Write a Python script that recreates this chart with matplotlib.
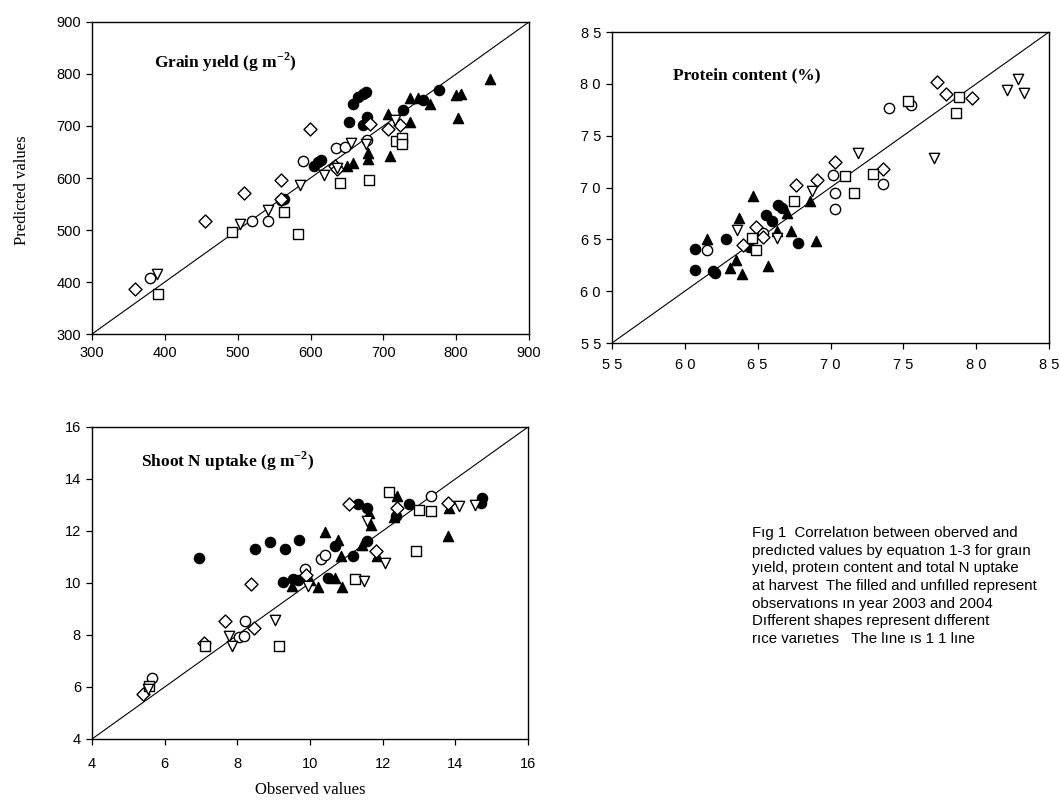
import matplotlib
matplotlib.use("Agg")
import matplotlib.pyplot as plt

plt.rcParams["mathtext.fontset"] = "custom"
plt.rcParams["mathtext.rm"] = "Liberation Serif"
plt.rcParams["mathtext.bf"] = "Liberation Serif:bold"

# ---------------- data ----------------
# Panel 1: grain yield (g m-2)
gy_filled_circle_x = [658, 665, 672, 676, 653, 677, 672, 727, 755, 777, 605, 610, 614, 563]
gy_filled_circle_y = [743, 755, 762, 765, 708, 717, 701, 730, 750, 770, 624, 631, 634, 560]
gy_filled_tri_x = [846, 800, 806, 803, 736, 748, 764, 707, 736, 679, 709, 650, 659, 679]
gy_filled_tri_y = [790, 759, 761, 716, 754, 754, 743, 724, 708, 637, 642, 624, 628, 648]
gy_open_circle_x = [380, 519, 541, 560, 590, 635, 647, 677]
gy_open_circle_y = [408, 517, 518, 557, 633, 658, 660, 674]
gy_open_diamond_x = [359, 455, 509, 559, 599, 634, 636, 682, 707, 723, 560]
gy_open_diamond_y = [387, 518, 571, 597, 694, 624, 618, 703, 695, 701, 559]
gy_open_square_x = [391, 492, 564, 583, 640, 681, 718, 725, 726]
gy_open_square_y = [377, 497, 534, 493, 591, 597, 671, 677, 665]
gy_open_vtri_x = [389, 503, 542, 586, 618, 656, 676, 716, 636]
gy_open_vtri_y = [416, 512, 539, 586, 606, 667, 666, 711, 619]

# Panel 2: protein content (%)
pc_filled_circle_x = [6.07, 6.07, 6.19, 6.21, 6.28, 6.56, 6.60, 6.64, 6.67, 6.78, 6.44]
pc_filled_circle_y = [6.41, 6.20, 6.19, 6.18, 6.50, 6.73, 6.68, 6.83, 6.80, 6.46, 6.43]
pc_filled_tri_x = [6.15, 6.37, 6.47, 6.35, 6.39, 6.31, 6.57, 6.63, 6.70, 6.73, 6.86, 6.90]
pc_filled_tri_y = [6.50, 6.71, 6.92, 6.30, 6.17, 6.22, 6.24, 6.58, 6.75, 6.58, 6.87, 6.48]
pc_open_circle_x = [6.15, 7.02, 7.03, 7.03, 7.36, 7.40, 7.55, 6.54]
pc_open_circle_y = [6.40, 7.12, 6.95, 6.79, 7.03, 7.77, 7.80, 6.56]
pc_open_diamond_x = [6.40, 6.49, 6.54, 6.76, 6.91, 7.03, 7.36, 7.73, 7.79, 7.97]
pc_open_diamond_y = [6.45, 6.62, 6.52, 7.02, 7.07, 7.25, 7.18, 8.02, 7.90, 7.86]
pc_open_square_x = [6.46, 6.49, 6.75, 7.10, 7.16, 7.29, 7.53, 7.86, 7.88]
pc_open_square_y = [6.51, 6.40, 6.87, 7.11, 6.95, 7.13, 7.83, 7.72, 7.87]
pc_open_vtri_x = [6.36, 6.63, 6.87, 7.19, 7.71, 8.21, 8.29, 8.33]
pc_open_vtri_y = [6.59, 6.51, 6.97, 7.33, 7.28, 7.94, 8.05, 7.91]

# Panel 3: shoot N uptake (g m-2)
nu_filled_circle_x = [6.95, 8.49, 8.90, 9.31, 9.71, 9.25, 9.54, 9.68, 10.49, 10.69, 11.17,
                      11.56, 11.33, 11.56, 12.73, 14.74, 14.72, 12.38]
nu_filled_circle_y = [10.96, 11.31, 11.56, 11.31, 11.64, 10.04, 10.15, 10.10, 10.19, 11.41, 11.03,
                      11.60, 13.05, 12.88, 13.04, 13.27, 13.08, 12.59]
nu_filled_tri_x = [10.42, 10.76, 10.85, 9.50, 10.23, 10.87, 10.00, 10.69, 11.44, 11.68, 11.63,
                   12.40, 12.31, 13.83, 13.79, 11.85]
nu_filled_tri_y = [11.95, 11.64, 11.03, 9.87, 9.85, 9.85, 10.13, 10.19, 11.47, 12.24, 12.69,
                   13.36, 12.53, 12.88, 11.80, 11.03]
nu_open_circle_x = [5.65, 8.21, 8.05, 8.17, 9.86, 10.30, 10.41, 13.32]
nu_open_circle_y = [6.35, 8.55, 7.92, 7.95, 10.55, 10.94, 11.09, 13.36]
nu_open_diamond_x = [5.40, 7.07, 7.65, 8.47, 8.37, 9.89, 11.08, 12.40, 11.81, 13.79]
nu_open_diamond_y = [5.74, 7.69, 8.53, 8.27, 9.96, 10.32, 13.04, 12.88, 11.23, 13.08]
nu_open_square_x = [5.56, 7.11, 9.16, 11.24, 12.18, 12.93, 12.99, 13.33]
nu_open_square_y = [6.03, 7.56, 7.59, 10.15, 13.49, 11.24, 12.82, 12.76]
nu_open_vtri_x = [5.53, 7.76, 7.85, 9.04, 9.94, 11.49, 11.57, 12.06, 14.10, 14.55]
nu_open_vtri_y = [5.92, 7.95, 7.59, 8.59, 9.90, 10.06, 12.37, 10.77, 12.95, 13.01]

gy_ticks = [300, 400, 500, 600, 700, 800, 900]
pc_ticks = [5.5, 6.0, 6.5, 7.0, 7.5, 8.0, 8.5]
pc_ticklabels = ["5 5", "6 0", "6 5", "7 0", "7 5", "8 0", "8 5"]
nu_ticks = [4, 6, 8, 10, 12, 14, 16]

titles = ["Grain y\u0131eld (g m$^{\\mathbf{-2}}$)", "Protein content (%)",
          "Shoot N uptake (g m$^{\\mathbf{-2}}$)"]

caption_lines = [
    "F\u0131g 1  Correlat\u0131on between oberved and",
    "pred\u0131cted values by equat\u0131on 1-3 for gra\u0131n",
    "y\u0131eld, prote\u0131n content and total N uptake",
    "at harvest  The filled and unf\u0131lled represent",
    "observat\u0131ons \u0131n year 2003 and 2004",
    "D\u0131fferent shapes represent d\u0131fferent",
    "r\u0131ce var\u0131et\u0131es   The l\u0131ne \u0131s 1 1 l\u0131ne",
]

# ---------------- plotting ----------------
W, H = 1060, 808
fig = plt.figure(figsize=(W / 100, H / 100), dpi=100)

def rect(l, t, r, b):
    return [l / W, 1 - b / H, (r - l) / W, (b - t) / H]

ax1 = fig.add_axes(rect(92, 22, 529, 334))
ax2 = fig.add_axes(rect(612, 32, 1049, 343))
ax3 = fig.add_axes(rect(92, 427, 528, 739))

tick_font = dict(family="Liberation Sans", size=10.5)
ms = 55

def draw(ax, lim, ticks, ticklabels, title, title_xy, series, xpad=6):
    ax.plot(lim, lim, color="black", lw=0.8, zorder=1)
    for (x, y, marker, filled) in series:
        size = ms * 0.8 if marker == "D" else ms
        if filled:
            ax.scatter(x, y, s=size, marker=marker, facecolor="black", edgecolor="black",
                       linewidths=0.9, zorder=2)
        else:
            ax.scatter(x, y, s=size, marker=marker, facecolor="white", edgecolor="black",
                       linewidths=1.0, zorder=3)
    ax.set_xlim(lim)
    ax.set_ylim(lim)
    ax.set_xticks(ticks)
    ax.set_yticks(ticks)
    labels = ticklabels if ticklabels is not None else [str(t) for t in ticks]
    ax.set_xticklabels(labels, fontdict=tick_font)
    ax.set_yticklabels(labels, fontdict=tick_font)
    ax.tick_params(direction="out", length=4, width=0.9, pad=4, top=False, right=False)
    ax.tick_params(axis="x", pad=xpad)
    for sp in ax.spines.values():
        sp.set_linewidth(1.0)
    ax.text(title_xy[0], title_xy[1], title, transform=ax.transAxes, family="Liberation Serif",
            fontsize=12.5, fontweight="bold", va="center", ha="left")

draw(ax1, (300, 900), gy_ticks, None, titles[0], (0.143, 0.87), [
    (gy_filled_circle_x, gy_filled_circle_y, "o", True),
    (gy_filled_tri_x, gy_filled_tri_y, "^", True),
    (gy_open_circle_x, gy_open_circle_y, "o", False),
    (gy_open_diamond_x, gy_open_diamond_y, "D", False),
    (gy_open_square_x, gy_open_square_y, "s", False),
    (gy_open_vtri_x, gy_open_vtri_y, "v", False),
], xpad=5)
draw(ax2, (5.5, 8.5), pc_ticks, pc_ticklabels, titles[1], (0.14, 0.862), [
    (pc_filled_circle_x, pc_filled_circle_y, "o", True),
    (pc_filled_tri_x, pc_filled_tri_y, "^", True),
    (pc_open_circle_x, pc_open_circle_y, "o", False),
    (pc_open_diamond_x, pc_open_diamond_y, "D", False),
    (pc_open_square_x, pc_open_square_y, "s", False),
    (pc_open_vtri_x, pc_open_vtri_y, "v", False),
], xpad=7)
draw(ax3, (4, 16), nu_ticks, None, titles[2], (0.113, 0.89), [
    (nu_filled_circle_x, nu_filled_circle_y, "o", True),
    (nu_filled_tri_x, nu_filled_tri_y, "^", True),
    (nu_open_circle_x, nu_open_circle_y, "o", False),
    (nu_open_diamond_x, nu_open_diamond_y, "D", False),
    (nu_open_square_x, nu_open_square_y, "s", False),
    (nu_open_vtri_x, nu_open_vtri_y, "v", False),
], xpad=9)

fig.text(22 / W, 1 - 190 / H, "Predicted values", rotation=90, family="Liberation Serif",
         fontsize=12, ha="center", va="center")
fig.text(310 / W, 1 - 790 / H, "Observed values", family="Liberation Serif",
         fontsize=12, ha="center", va="center")
fig.text(752 / W, 1 - 526 / H, "\n".join(caption_lines), family="Liberation Sans",
         fontsize=10.8, ha="left", va="top", linespacing=1.33)

fig.savefig("out.png", dpi=100)
